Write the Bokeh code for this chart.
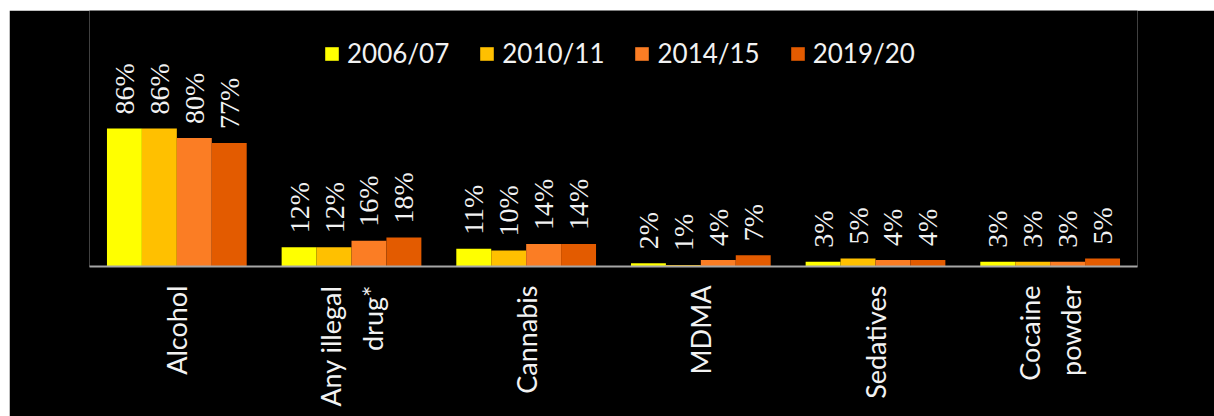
import math
from bokeh.plotting import figure
from bokeh.models import ColumnDataSource, FactorRange, LabelSet, Legend, LegendItem
from bokeh.transform import dodge
from bokeh.embed import file_html
from bokeh.resources import INLINE

categories = ["Alcohol", "Any illegal\ndrug*", "Cannabis", "MDMA", "Sedatives", "Cocaine\npowder"]
series_names = ["2006/07", "2010/11", "2014/15", "2019/20"]
v_2006_07 = [86, 12, 11, 2, 3, 3]
v_2010_11 = [86, 12, 10, 1, 5, 3]
v_2014_15 = [80, 16, 14, 4, 4, 3]
v_2019_20 = [77, 18, 14, 7, 4, 5]
colors = ["#FFFF00", "#FFC000", "#FB7D24", "#E35B00"]

series_values = [v_2006_07, v_2010_11, v_2014_15, v_2019_20]
offsets = [-0.3, -0.1, 0.1, 0.3]
FONT = "Lato"
TXT = "#F2F2F2"

p = figure(
    x_range=FactorRange(*categories, range_padding=0),
    y_range=(0, 159.5),
    width=1205, height=406,
    output_backend="svg", toolbar_location=None,
    y_axis_location=None,
    background_fill_color="black", border_fill_color="black",
    min_border_left=80, min_border_right=77,
    min_border_top=0, min_border_bottom=150,
)
p.margin = (10, 0, 0, 9)
p.outline_line_color = None
p.xgrid.visible = False
p.ygrid.visible = False

items = []
for name, vals, off, col in zip(series_names, series_values, offsets, colors):
    src = ColumnDataSource(dict(cat=categories, val=vals, lbl=[f"{v}%" for v in vals]))
    r = p.vbar(x=dodge("cat", off, range=p.x_range), top="val", width=0.2,
               source=src, fill_color=col, line_color=None)
    items.append(LegendItem(label=name, renderers=[r]))
    labels = LabelSet(x=dodge("cat", off, range=p.x_range), y="val", text="lbl", source=src,
                      angle=math.pi / 2, y_offset=14, text_align="left", text_baseline="middle",
                      text_color=TXT, text_font=FONT, text_font_size="28px")
    p.add_layout(labels)

legend = Legend(items=items, orientation="horizontal", location=(234, 197),
                padding=0, margin=0, spacing=29, glyph_width=17, glyph_height=17,
                label_standoff=7, label_text_color=TXT, label_text_font=FONT,
                label_text_font_size="26px", background_fill_alpha=0,
                border_line_color=None)
p.add_layout(legend)

ax = p.xaxis[0]
ax.axis_line_color = "#A6A6A6"
ax.axis_line_width = 2
ax.major_tick_line_color = None
ax.minor_tick_line_color = None
ax.major_label_orientation = math.pi / 2
ax.major_label_standoff = 13
ax.major_label_text_color = TXT
ax.major_label_text_font = FONT
ax.major_label_text_font_size = "27px"
ax.major_label_text_line_height = 1.25

open("out.html", "w").write(file_html(p, INLINE))
